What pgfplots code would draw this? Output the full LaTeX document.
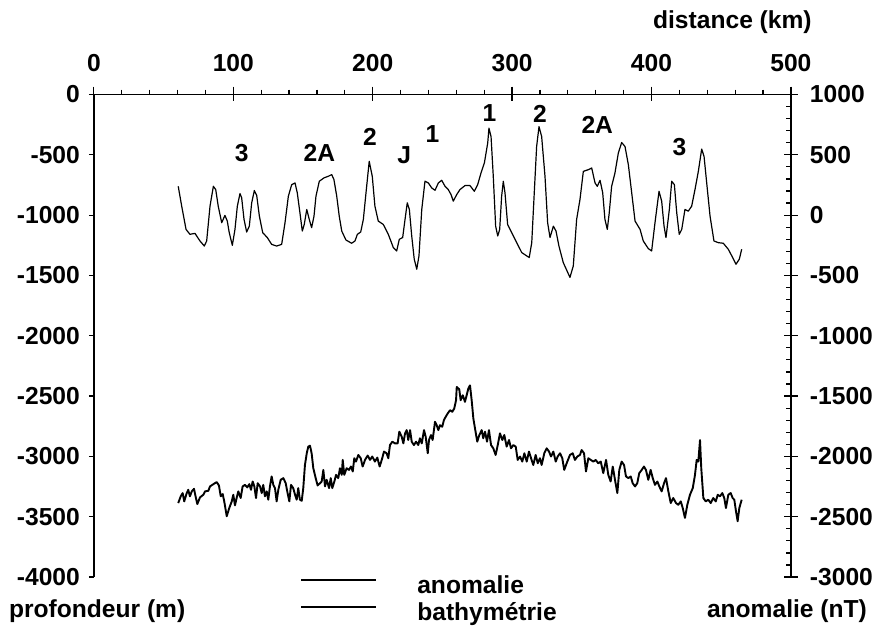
\documentclass[border=0pt]{standalone}
\usepackage{pgfplots}
\pgfplotsset{compat=1.18}
\usepackage{fontspec}
\setmainfont{Liberation Sans}
\newcommand\lab{\fontsize{12.3}{14}\selectfont\bfseries}

% bathymetrie (m), distance (km)
\pgfplotstableread{
x y
60.5 -3387
62.3 -3331
63.7 -3304
64.8 -3373
66.6 -3304
67.7 -3277
68.9 -3331
70.2 -3290
71.8 -3269
73.2 -3345
74.2 -3395
76.1 -3340
78.5 -3318
79.7 -3290
82.1 -3285
83.3 -3249
85.7 -3230
88.1 -3213
89.7 -3241
91.0 -3331
92.4 -3312
93.5 -3373
95.3 -3496
97.1 -3428
98.9 -3373
100.0 -3318
101.2 -3406
102.4 -3345
103.6 -3290
105.3 -3345
106.7 -3249
108.4 -3236
110.0 -3257
111.5 -3230
112.7 -3277
113.9 -3208
115.1 -3249
116.3 -3345
117.5 -3222
119.2 -3249
120.4 -3304
121.5 -3236
122.7 -3331
124.0 -3290
125.1 -3359
126.3 -3249
127.5 -3166
128.7 -3236
129.9 -3263
131.1 -3373
132.3 -3277
134.0 -3194
135.9 -3180
137.6 -3222
138.7 -3290
140.2 -3373
141.4 -3236
143.0 -3263
144.3 -3318
145.5 -3359
146.6 -3263
147.8 -3359
149.1 -3368
150.2 -3263
151.4 -3071
152.7 -2974
153.8 -2919
155.0 -2911
156.2 -2974
157.4 -3098
159.1 -3180
160.5 -3241
162.2 -3222
163.4 -3208
164.6 -3112
165.8 -3249
167.0 -3194
168.7 -3263
169.9 -3180
171.0 -3263
172.5 -3208
173.7 -3153
175.3 -3180
176.5 -3098
177.8 -3153
178.5 -3029
179.6 -3153
181.3 -3098
183.0 -3112
184.4 -3084
185.7 -3125
186.8 -3015
188.0 -3043
189.7 -2988
191.4 -3015
192.8 -3084
194.5 -3029
196.4 -2993
198.1 -3029
199.7 -3001
201.6 -3043
203.3 -3010
205.0 -3084
206.5 -3029
208.1 -2960
210.0 -2974
211.2 -3015
212.4 -2906
214.1 -2878
216.0 -2892
217.9 -2892
219.1 -2795
220.8 -2836
222.0 -2892
223.2 -2809
224.4 -2782
225.5 -2864
226.8 -2782
228.0 -2878
229.6 -2906
231.1 -2878
232.7 -2906
233.9 -2850
235.2 -2892
236.8 -2782
238.0 -2836
239.5 -2974
240.4 -2864
241.8 -2823
243.0 -2864
244.7 -2713
245.9 -2741
247.1 -2782
248.3 -2741
249.9 -2754
251.1 -2699
252.4 -2671
253.8 -2644
255.5 -2617
257.1 -2630
258.5 -2603
259.8 -2534
260.3 -2424
262.1 -2444
263.1 -2534
264.6 -2493
266.2 -2548
268.6 -2438
269.8 -2411
271.0 -2534
272.2 -2685
273.4 -2768
275.0 -2878
276.5 -2823
278.2 -2782
279.3 -2850
280.6 -2795
282.0 -2878
283.4 -2782
284.9 -2906
286.5 -2933
288.2 -2988
289.7 -2906
291.3 -2809
293.0 -2864
294.4 -2823
296.1 -2919
297.8 -2864
299.2 -2933
300.9 -2906
302.6 -2919
304.0 -3029
305.7 -3001
307.3 -3043
308.8 -2974
310.5 -3043
312.1 -2960
313.6 -3015
315.2 -3071
316.9 -2988
318.4 -3057
320.0 -3015
321.2 -3071
323.1 -2974
324.8 -2933
326.5 -2960
327.9 -3001
329.6 -2960
331.3 -3043
332.7 -3001
334.4 -2974
336.0 -3015
337.4 -3112
339.6 -3043
341.5 -2988
343.5 -2974
345.1 -3029
346.8 -3001
348.7 -2988
349.9 -2947
351.6 -2974
353.0 -3125
354.7 -3015
356.4 -3029
358.3 -3043
360.0 -3029
361.8 -3057
363.6 -3043
365.4 -3139
367.4 -3029
369.0 -3153
370.7 -3208
372.2 -3084
373.8 -3194
375.5 -3304
376.9 -3112
378.6 -3043
380.3 -3071
381.7 -3166
383.4 -3180
385.1 -3166
386.5 -3222
388.2 -3249
389.8 -3222
391.2 -3139
393.0 -3112
394.6 -3084
396.0 -3112
397.7 -3194
399.4 -3112
400.9 -3180
402.5 -3236
404.2 -3208
405.6 -3249
407.3 -3290
409.0 -3222
410.4 -3180
412.1 -3290
413.8 -3387
415.6 -3345
417.6 -3387
419.2 -3401
421.0 -3373
422.4 -3428
424.0 -3510
425.7 -3401
427.6 -3318
429.6 -3263
431.2 -3153
432.4 -3029
433.6 -3043
434.8 -2864
435.7 -3098
437.2 -3345
438.9 -3373
440.7 -3359
442.5 -3387
444.3 -3345
446.1 -3373
447.5 -3318
449.1 -3331
450.8 -3304
452.2 -3345
453.4 -3428
455.1 -3318
456.8 -3304
458.2 -3345
459.4 -3359
460.6 -3455
461.8 -3538
463.0 -3428
464.7 -3359
}\bathy

% anomalie (nT)
\pgfplotstableread{
x y
60.5 239
63.0 74
66.1 -118
68.9 -159
72.5 -151
76.1 -214
79.2 -256
80.9 -214
83.3 74
85.7 239
87.4 212
89.2 74
91.7 -63
94.0 -2
95.7 -49
97.1 -145
99.3 -250
101.2 -118
102.9 74
104.8 179
106.0 144
107.7 -35
109.6 -140
111.5 -91
113.2 102
115.1 204
116.8 163
118.7 -8
121.1 -145
124.4 -186
127.5 -242
131.1 -256
134.7 -242
137.1 -63
139.5 157
141.9 253
144.3 267
145.9 185
147.8 20
149.5 -132
150.9 -77
152.7 47
154.5 -35
156.2 -104
157.9 -8
159.3 157
161.7 281
165.1 309
168.1 322
170.6 336
172.2 295
174.2 157
176.0 -8
177.8 -132
180.8 -206
184.9 -233
187.3 -214
189.0 -159
191.4 -140
193.3 -35
195.2 185
197.5 446
199.7 322
201.6 74
204.0 -49
207.6 -77
211.2 -159
214.8 -269
217.2 -297
219.1 -200
221.5 -186
223.2 -35
224.8 102
226.3 47
228.0 -173
229.8 -365
231.6 -448
233.2 -338
235.2 47
237.5 281
239.9 267
242.3 226
244.7 206
247.1 267
249.5 289
251.9 239
254.2 212
256.2 171
257.8 116
260.3 171
262.6 212
266.2 245
269.8 245
272.9 198
275.3 253
277.7 350
280.1 432
282.5 597
283.4 721
284.9 652
286.5 322
288.2 -91
289.7 -173
291.1 -118
292.5 157
293.7 281
294.9 185
296.8 -77
299.7 -145
303.3 -228
306.9 -310
310.5 -338
312.3 -351
314.1 -228
315.9 185
317.6 569
319.3 734
321.2 652
323.6 322
325.5 -63
327.2 -186
329.6 -91
331.5 -132
333.6 -256
336.7 -393
341.5 -516
343.9 -421
346.3 -35
348.7 130
351.1 363
354.7 377
357.1 391
359.5 267
361.1 239
363.1 289
365.0 185
366.6 -35
368.3 -118
369.7 20
371.4 239
373.8 350
376.2 515
378.6 602
381.0 569
383.4 418
385.8 185
388.2 -49
391.8 -118
394.1 -214
397.7 -277
400.1 -297
402.5 -63
405.4 198
407.3 116
409.0 -91
410.4 -186
412.8 47
414.5 281
416.4 253
418.1 20
419.9 -159
421.7 -118
424.0 47
426.4 33
428.8 74
431.2 212
433.6 363
436.0 548
437.7 487
439.6 267
442.0 -8
444.8 -214
447.9 -228
451.5 -233
455.1 -283
458.2 -351
460.6 -407
463.0 -365
464.7 -283
}\anom

\begin{document}
\begin{tikzpicture}
\pgfplotsset{
  every axis/.append style={
    scale only axis, width=348.5pt, height=241.25pt,
    xmin=0, xmax=500, clip=false,
    axis line style={-, line width=0.7pt, black},
    tick style={line width=0.6pt, black},
    tick label style={font=\lab},
  },
}

% axe du haut (distance) + bathymetrie
\begin{axis}[
  ymin=-4000, ymax=0,
  axis x line*=top, axis y line=none,
  xtick={0,100,200,300,400,500},
  xticklabels={0,100,200,300,400,500},
  minor x tick num=4,
  tick align=outside,
  major tick length=7pt, minor tick length=2.5pt,
  major x tick style={yshift=-3pt},
  xticklabel style={yshift=1pt},
]
\addplot[black, line width=0.95pt, line join=round] table[x=x, y=y] {\bathy};
\node[font=\lab] at (axis cs:106,-485) {3};
\node[font=\lab] at (axis cs:161.7,-485) {2A};
\node[font=\lab] at (axis cs:198.1,-348) {2};
\node[font=\lab] at (axis cs:222.7,-499) {J};
\node[font=\lab] at (axis cs:242.8,-326) {1};
\node[font=\lab] at (axis cs:283.8,-153) {1};
\node[font=\lab] at (axis cs:320,-157) {2};
\node[font=\lab] at (axis cs:361.1,-252) {2A};
\node[font=\lab] at (axis cs:420,-436) {3};
\coordinate (bbSW) at (rel axis cs:-0.1347,-0.1140);
\coordinate (bbNE) at (rel axis cs:1.1178,1.1959);
\end{axis}

% axe de gauche (profondeur)
\begin{axis}[
  ymin=-4000, ymax=0,
  axis x line=none, axis y line*=left,
  ytick={-4000,-3500,-3000,-2500,-2000,-1500,-1000,-500,0},
  yticklabels={-4000,-3500,-3000,-2500,-2000,-1500,-1000,-500,0},
  tick align=outside, major tick length=2.5pt,
  yticklabel style={xshift=-1pt},
]
\end{axis}

% axe de droite (anomalie)
\begin{axis}[
  ymin=-3000, ymax=1000,
  axis x line=none, axis y line*=right,
  ytick={-3000,-2500,-2000,-1500,-1000,-500,0,500,1000},
  yticklabels={-3000,-2500,-2000,-1500,-1000,-500,0,500,1000},
  minor y tick num=4,
  tick align=inside, major tick length=7pt, minor tick length=2.5pt,
  major y tick style={xshift=3.5pt},
  yticklabel style={xshift=6pt},
  legend style={at={(axis description cs:0.2957,0.004)}, anchor=north west,
    draw=none, fill=none, inner sep=0pt, font=\lab, row sep=2pt,
    nodes={inner sep=0pt, text height=9pt, text depth=2.5pt},
    cells={anchor=west}},
  legend image code/.code={\draw[#1] (0pt,3.5pt) -- (37.5pt,3.5pt); \path (57.5pt,0pt);},
]
\addplot[black, line width=0.6pt, line join=round] table[x=x, y=y] {\anom};
\addlegendentry{anomalie}
\addlegendimage{black, line width=0.95pt}
\addlegendentry{bathymétrie}
\node[font=\lab, anchor=east] at (axis description cs:1.040,1.150) {distance (km)};
\node[font=\lab, anchor=west] at (axis description cs:-0.1319,-0.0705) {profondeur (m)};
\node[font=\lab, anchor=east] at (axis description cs:1.1192,-0.0705) {anomalie (nT)};
\end{axis}

\pgfresetboundingbox
\path[use as bounding box] (bbSW) rectangle (bbNE);
\end{tikzpicture}
\end{document}
